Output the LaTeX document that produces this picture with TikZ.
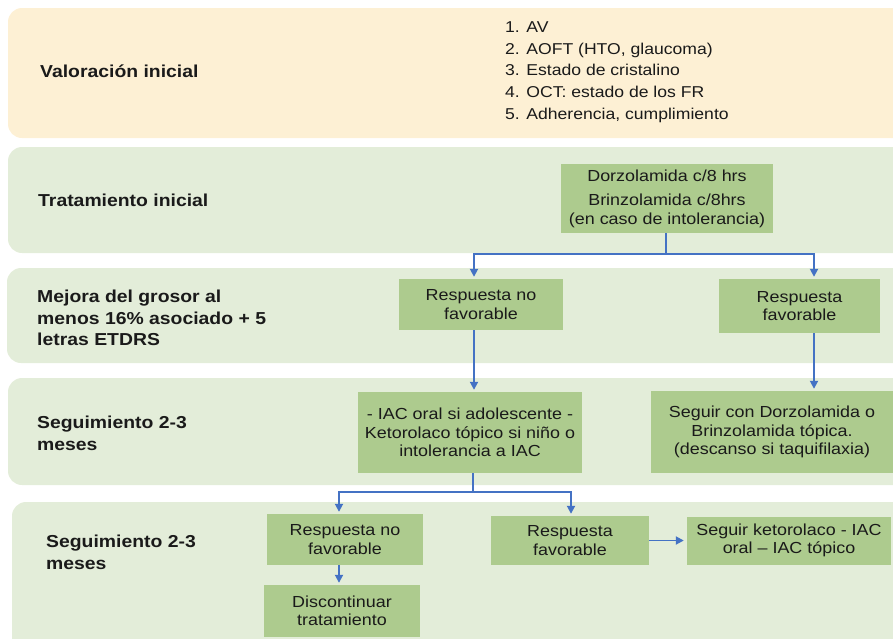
\documentclass[tikz,border=0pt]{standalone}
\usepackage{fontspec}
\setmainfont[FakeStretch=1.12]{Liberation Sans}
\usetikzlibrary{arrows.meta}
\definecolor{bandyellow}{HTML}{FDF0D4}
\definecolor{bandgreen}{HTML}{E3EDD9}
\definecolor{boxgreen}{HTML}{ADCB8E}
\definecolor{arrowblue}{HTML}{4472C4}
\definecolor{txtcol}{HTML}{1A1A1A}
\newcommand\myboxfont{\fontsize{16}{18.4}\selectfont}
\newcommand\mylblfont{\bfseries\fontsize{17.3}{21.7}\selectfont}
\begin{document}
\begin{tikzpicture}[x=1pt,y=-1pt,
  band/.style={rounded corners=14pt},
  box/.style={fill=boxgreen, inner sep=2pt, align=center, font=\myboxfont, text=txtcol},
  lbl/.style={anchor=west, align=left, font=\mylblfont, inner sep=0pt, text=txtcol},
  arr/.style={draw=arrowblue, line width=1.8pt, -{Triangle[length=8pt,width=8pt]}, shorten >=2pt}]
\useasboundingbox (0,0) rectangle (893,638);
\clip (0,0) rectangle (893,638);
% bands
\fill[band, bandyellow] (8,8) rectangle (920,138);
\fill[band, bandgreen] (8,147) rectangle (920,253);
\fill[band, bandgreen] (7,268) rectangle (920,363);
\fill[band, bandgreen] (8,378) rectangle (920,485);
\fill[band, bandgreen] (12,502) rectangle (920,660);
% labels
\node[lbl] (l1) at (40,71) {Valoración inicial};
\node[lbl] (l2) at (38,200) {Tratamiento inicial};
\node[lbl] (l3) at (37,318) {Mejora del grosor al\\menos 16\% asociado + 5\\letras ETDRS};
\node[lbl] (l4) at (37,433) {Seguimiento 2-3\\meses};
\node[lbl] (l5) at (46,552) {Seguimiento 2-3\\meses};
% list
\node[anchor=west, align=left, inner sep=0pt, text=txtcol, font=\fontsize{15.7}{21.7}\selectfont] (list) at (505,72)
  {1. AV\\2. AOFT (HTO, glaucoma)\\3. Estado de cristalino\\4. OCT: estado de los FR\\5. Adherencia, cumplimiento};
% boxes
\node[box, minimum width=212pt, minimum height=69pt] (dorz) at (667,198.5)
  {Dorzolamida c/8 hrs\\[6pt]Brinzolamida c/8hrs\\(en caso de intolerancia)};
\node[box, minimum width=164pt, minimum height=51pt] (rnf1) at (481,304.5) {Respuesta no\\favorable};
\node[box, minimum width=161pt, minimum height=54pt] (rf1) at (799.5,306) {Respuesta\\favorable};
\node[box, minimum width=224pt, minimum height=81pt] (iac) at (470,432.5)
  {- IAC oral si adolescente -\\Ketorolaco tópico si niño o\\intolerancia a IAC};
\node[box, minimum width=242pt, minimum height=82pt] (seg1) at (772,432)
  {Seguir con Dorzolamida o\\Brinzolamida tópica.\\(descanso si taquifilaxia)};
\node[box, minimum width=156pt, minimum height=51pt] (rnf2) at (345,539.5) {Respuesta no\\favorable};
\node[box, minimum width=158pt, minimum height=49pt] (rf2) at (570,540.5) {Respuesta\\favorable};
\node[box, minimum width=204pt, minimum height=48pt] (sk) at (789,540.5) {Seguir ketorolaco - IAC\\oral -- IAC tópico};
\node[box, minimum width=156pt, minimum height=52pt] (disc) at (342,611) {Discontinuar\\tratamiento};
% connectors
\coordinate (j1) at (666,254);
\coordinate (j2) at (473,492);
\draw[arr] (dorz.south -| j1) -- (j1) -| ([xshift=-7pt]rnf1.north);
\draw[arr] (j1) -| ([xshift=14.5pt]rf1.north);
\draw[arr] ([xshift=-7pt]rnf1.south) -- ([xshift=4pt]iac.north);
\draw[arr] ([xshift=14.5pt]rf1.south) -- ([xshift=42pt]seg1.north);
\draw[arr] (iac.south -| j2) -- (j2) -| ([xshift=-6pt]rnf2.north);
\draw[arr] (j2) -| ([xshift=1pt]rf2.north);
\draw[arr] ([xshift=-6pt]rnf2.south) -- ([xshift=-3pt]disc.north);
\draw[arr, shorten >=3pt] (rf2.east) -- (sk.west);
\end{tikzpicture}
\end{document}
